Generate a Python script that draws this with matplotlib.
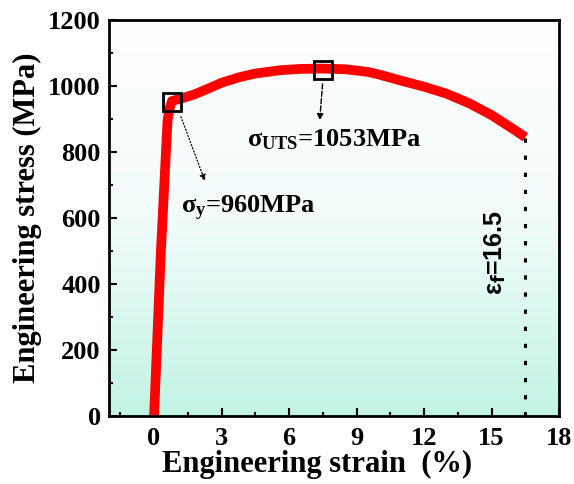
import numpy as np
from matplotlib import pyplot as plt
from matplotlib.colors import LinearSegmentedColormap

plt.rcParams['font.family'] = ['Liberation Serif', 'DejaVu Serif']
plt.rcParams['font.weight'] = 'bold'
plt.rcParams['mathtext.fontset'] = 'custom'
plt.rcParams['mathtext.rm'] = 'Liberation Serif:bold'
plt.rcParams['mathtext.it'] = 'Liberation Serif:bold'
plt.rcParams['mathtext.bf'] = 'Liberation Serif:bold'

# stress-strain curve
strain = [0, 0.3, 0.6, 0.7, 0.8, 1.2, 1.8, 2.5, 3.0, 3.8, 4.5, 5.6, 6.5,
          7.5, 8.5, 9.5, 10.0, 11.0, 12.0, 13.0, 14.0, 15.0, 16.0, 16.5]
stress = [0, 494, 897, 935, 955, 962, 975, 995, 1010, 1027, 1038, 1048, 1052,
          1053, 1051, 1043, 1035, 1016, 998, 977, 948, 912, 868, 845]

yield_pt = (0.8, 952)
uts_pt = (7.5, 1050)
fracture_strain = 16.5
fracture_stress = 845

fig = plt.figure(figsize=(5.74, 4.84), dpi=100)
ax = fig.add_axes([0.19, 0.1405, 0.784, 0.818])

# background gradient
cmap = LinearSegmentedColormap.from_list('bg', ['#ffffff', '#f2fcfa', '#c2f4e4'])
grad = np.linspace(0, 1, 256).reshape(-1, 1)
ax.imshow(grad, extent=[-2, 18, 0, 1200], aspect='auto', cmap=cmap,
          origin='upper', zorder=0)

ax.plot(strain, stress, color='#ff0000', lw=7, solid_capstyle='butt',
        solid_joinstyle='round', zorder=2)
ax.plot([yield_pt[0], uts_pt[0]], [yield_pt[1], uts_pt[1]], ls='none',
        marker='s', ms=13, mfc='none', mec='black', mew=2, zorder=3)

ax.plot([fracture_strain, fracture_strain], [0, fracture_stress],
        ls=(0, (1.4, 4.2)), color='black', lw=2.2, zorder=2)

ax.annotate('', xy=(2.3, 705), xytext=(1.15, 915),
            arrowprops=dict(arrowstyle='-|>', ls=':', color='black', lw=0.9,
                            mutation_scale=9))
ax.annotate('', xy=(7.35, 888), xytext=(7.5, 1015),
            arrowprops=dict(arrowstyle='-|>', ls='--', color='black', lw=1.0,
                            mutation_scale=9))

ax.text(1.2, 630, r'$\sigma_y$=960MPa', fontsize=19, va='center', ha='left')
ax.text(4.15, 836, r'$\sigma_{UTS}$=1053MPa', fontsize=19, va='center', ha='left')
ax.text(15.15, 494, 'ε$_\\mathsf{f}$=16.5', fontsize=18, rotation=90,
        va='center', ha='center', family='Liberation Sans')

ax.set_xlim(-2, 18)
ax.set_ylim(0, 1200)
ax.set_xticks([0, 3, 6, 9, 12, 15, 18])
ax.set_xticks(np.arange(-1.5, 18, 1.5), minor=True)
ax.set_yticks([0, 200, 400, 600, 800, 1000, 1200])
ax.set_yticks(np.arange(0, 1200, 100), minor=True)
ax.tick_params(which='both', direction='in', width=1.5, labelsize=19)
ax.tick_params(which='major', length=6)
ax.tick_params(which='minor', length=3)
ax.tick_params(axis='x', pad=8)
ax.tick_params(axis='y', pad=6)
for s in ax.spines.values():
    s.set_linewidth(2)

ax.set_xlabel('Engineering strain  (%)', fontsize=22, fontweight='bold', labelpad=0)
ax.xaxis.label.set_x(0.463)
ax.set_ylabel('Engineering stress (MPa)', fontsize=22, fontweight='bold', labelpad=4)

fig.savefig('out.png', dpi=100)
